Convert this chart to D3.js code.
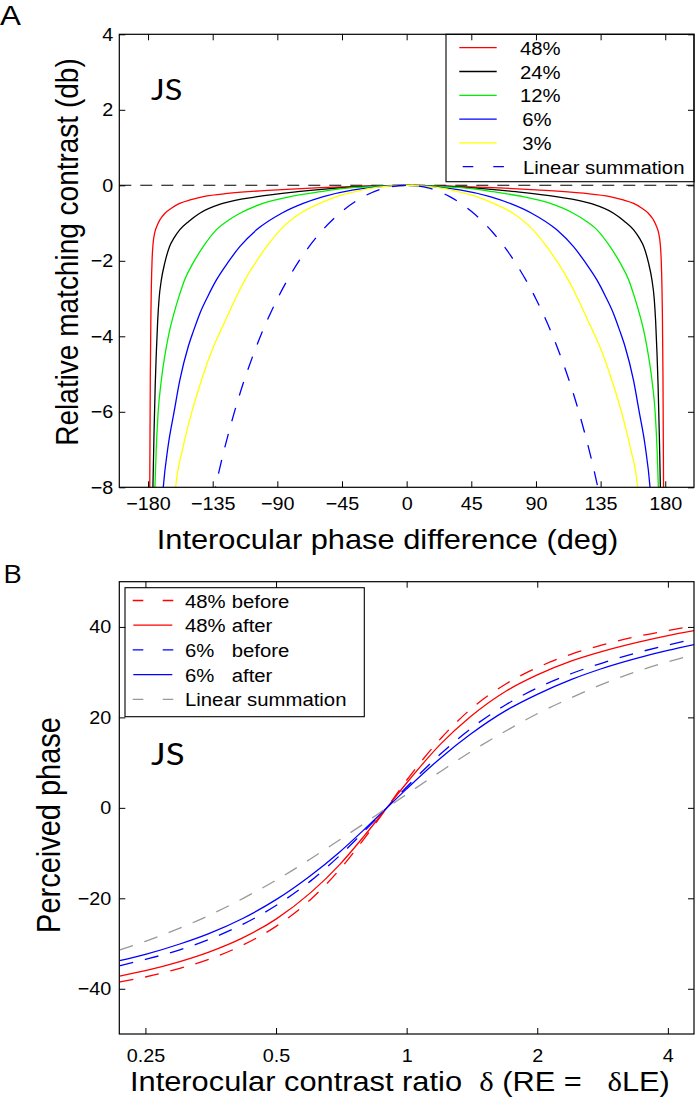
<!DOCTYPE html>
<html><head><meta charset="utf-8">
<script src="https://cdn.jsdelivr.net/npm/d3@7"></script>
<style>
body{margin:0;background:#fff;}
svg{display:block;}
text{font-family:"Liberation Sans",Arial,Helvetica,sans-serif;fill:#000;}
</style></head><body>
<svg id="chart" width="695" height="1100"></svg>
<script>
// ---------------- Panel A data ----------------
const phaseTicksA = [-180,-135,-90,-45,0,45,90,135,180];
const dbTicksA = [4,2,0,-2,-4,-6,-8];
const legendA = ["48%","24%","12%","6%","3%","Linear summation"];
const colorsA = ["#ff0000","#000000","#00ee00","#0000ff","#ffff00","#0000ff"];
const referenceDb = 0;

const phase48 = [-179,-178.8,-178.4,-178,-177.7,-177.2,-176.5,-175.4,-173.5,-171.5,-168.2,-163.5,-158,-150,-141.5,-123,-90,-60,-30,0,30,60,90,123,141.5,150,158,163.5,168.2,171.5,173.5,175.4,176.5,177.2,177.7,178,178.4,178.8,179];
const db48 = [-9.5,-8,-5,-3.4,-2.7,-2.0,-1.55,-1.27,-1.05,-0.9,-0.74,-0.6,-0.48,-0.38,-0.3,-0.21,-0.12,-0.06,-0.02,0,-0.02,-0.06,-0.12,-0.21,-0.3,-0.38,-0.48,-0.6,-0.74,-0.9,-1.05,-1.27,-1.55,-2.0,-2.7,-3.4,-5,-8,-9.5];

const phase24 = [-177,-176.6,-175.8,-175,-174.3,-173.3,-172.3,-170.7,-168.3,-165,-162,-158,-151.5,-144,-128,-104,-76,-53,-30,0,30,53,76,104,128,144,151.5,158,162,165,168.3,170.7,172.3,173.3,174.3,175,175.8,176.6,177];
const db24 = [-9,-8,-6.5,-5.3,-4.5,-3.6,-3.0,-2.5,-2.05,-1.62,-1.4,-1.18,-0.95,-0.74,-0.48,-0.3,-0.17,-0.09,-0.03,0,-0.03,-0.09,-0.17,-0.3,-0.48,-0.74,-0.95,-1.18,-1.4,-1.62,-2.05,-2.5,-3.0,-3.6,-4.5,-5.3,-6.5,-8,-9];

const phase12 = [-175.6,-175.2,-174.3,-173,-170.7,-167.2,-165,-162,-158.5,-154.5,-148.5,-141.5,-132.5,-125,-116,-100,-81,-60,-40,-20,0,20,40,60,81,100,116,125,132.5,141.5,148.5,154.5,158.5,162,165,167.2,170.7,173,174.3,175.2,175.6];
const db12 = [-8.6,-8,-7,-6.03,-5.15,-4.27,-3.85,-3.4,-2.95,-2.5,-2.05,-1.62,-1.18,-0.95,-0.74,-0.48,-0.3,-0.17,-0.07,-0.02,0,-0.02,-0.07,-0.17,-0.3,-0.48,-0.74,-0.95,-1.18,-1.62,-2.05,-2.5,-2.95,-3.4,-3.85,-4.27,-5.15,-6.03,-7,-8,-8.6];

const phase6 = [-170,-169.4,-166,-162,-157.8,-152,-148.3,-144,-138.5,-132.3,-124.5,-116,-104.5,-87,-72,-58,-37,-20,0,20,37,58,72,87,104.5,116,124.5,132.3,138.5,144,148.3,152,157.8,162,166,169.4,170];
const db6 = [-8.3,-8,-6.9,-6.03,-5.15,-4.27,-3.85,-3.4,-2.95,-2.5,-2.05,-1.62,-1.18,-0.74,-0.48,-0.3,-0.12,-0.04,0,-0.04,-0.12,-0.3,-0.48,-0.74,-1.18,-1.62,-2.05,-2.5,-2.95,-3.4,-3.85,-4.27,-5.15,-6.03,-6.9,-8,-8.3];

const phase3 = [-161.8,-160.8,-155.4,-149.7,-142.7,-134.4,-129.4,-124,-118.5,-112.4,-105.2,-97.4,-88,-74,-60.4,-48.7,-35,-20,0,20,35,48.7,60.4,74,88,97.4,105.2,112.4,118.5,124,129.4,134.4,142.7,149.7,155.4,160.8,161.8];
const db3 = [-8.4,-8,-6.9,-6.03,-5.15,-4.27,-3.85,-3.4,-2.95,-2.5,-2.05,-1.62,-1.18,-0.74,-0.48,-0.3,-0.16,-0.05,0,-0.05,-0.16,-0.3,-0.48,-0.74,-1.18,-1.62,-2.05,-2.5,-2.95,-3.4,-3.85,-4.27,-5.15,-6.03,-6.9,-8,-8.4];

const phaseLin = [-135,-130,-120,-105,-90,-75,-60,-45,-30,-15,0,15,30,45,60,75,90,105,120,130,135];
const dbLin = [-8.34,-7.48,-6.02,-4.31,-3.01,-2.01,-1.25,-0.69,-0.3,-0.07,0,-0.07,-0.3,-0.69,-1.25,-2.01,-3.01,-4.31,-6.02,-7.48,-8.34];

// ---------------- Panel B data ----------------
const ratioTicksB = [0.25,0.5,1,2,4];
const phaseTicksB = [-40,-20,0,20,40];
const ratioB = [0.218,0.25,0.3,0.35,0.42,0.5,0.6,0.7,0.8,0.9,1,1.2,1.4,1.7,2,2.4,2.8,3.4,4,4.6];
const before48 = [-38.5,-37.4,-35.5,-33.5,-30.3,-26.2,-20.3,-13.7,-6.7,0,6.1,15.4,21.7,27.5,31.0,34.0,35.9,37.9,39.2,40.2];
const after48  = [-37.2,-36.0,-34.0,-31.9,-28.7,-24.6,-18.8,-12.6,-6.1,0,5.5,14.2,20.1,25.9,29.4,32.5,34.5,36.6,38.1,39.2];
const before6  = [-34.9,-33.5,-31.4,-29.1,-25.7,-21.6,-16.2,-10.6,-5.1,0,4.6,12.0,17.4,22.9,26.5,29.7,31.9,34.3,36.0,37.3];
const after6   = [-33.8,-32.4,-30.1,-27.8,-24.4,-20.3,-15.0,-9.8,-4.7,0,4.2,11.1,16.2,21.6,25.1,28.4,30.7,33.1,34.8,36.1];
const linearB  = [-31.4,-29.5,-26.6,-23.8,-20.0,-16.0,-11.3,-7.1,-3.4,0,3.0,8.1,12.3,17.1,20.8,24.4,27.2,30.2,32.3,33.9];
const legendB = [["48%","before"],["48%","after"],["6%","before"],["6%","after"],["Linear summation",""]];
const colorsB = ["#ff0000","#ff0000","#0000ff","#0000ff","#999999"];
const dashedB = [true,false,true,false,true];

// ---------------- drawing ----------------
const S = 1.12;   // horizontal glyph stretch for labels
const ST = 1.07;  // stretch for tick and legend text
const svg = d3.select("#chart");

function htext(g, x, y, str, size, anchor, family, s){
  const t = g.append("text")
    .attr("transform", `translate(${x},${y}) scale(${s||S},1)`)
    .attr("font-size", size).text(str);
  if (anchor) t.attr("text-anchor", anchor);
  if (family) t.style("font-family", family);
  return t;
}
function vtext(g, x, y, str, size){
  return g.append("text")
    .attr("transform", `translate(${x},${y}) rotate(-90) scale(1,${S})`)
    .attr("text-anchor","middle").attr("font-size", size).text(str);
}
function styleAxis(g, size, padX){
  g.select(".domain").remove();
  g.attr("font-size", size);
  g.selectAll(".tick line").attr("stroke","#000").attr("stroke-width",1);
  g.selectAll(".tick text").attr("transform", `scale(${ST},1)`).style("font-size", size+"px");
  if (padX !== undefined) g.selectAll(".tick text").attr("x", padX / ST);
}

// ===== Panel A =====
const A = {l:119.3, r:694, t:34.3, b:487.3};
const xA = d3.scaleLinear().domain([-200,200]).range([A.l, A.r]);
const yA = d3.scaleLinear().domain([-8,4]).range([A.b, A.t]);

const defs = svg.append("defs");
defs.append("clipPath").attr("id","clipA")
  .append("rect").attr("x",A.l).attr("y",A.t).attr("width",A.r-A.l).attr("height",A.b-A.t);
defs.append("clipPath").attr("id","clipB")
  .append("rect").attr("x",119.3).attr("y",581.7).attr("width",694-119.3).attr("height",1034-581.7);

const gA = svg.append("g");
const plotA = gA.append("g").attr("clip-path","url(#clipA)");

plotA.append("line")
  .attr("x1", xA.range()[0]).attr("x2", xA.range()[1])
  .attr("y1", yA(referenceDb)).attr("y2", yA(referenceDb))
  .attr("stroke","#000").attr("stroke-width",1.1).attr("stroke-dasharray","12,9");

const seriesA = [
  {p:phase48, v:db48, c:colorsA[0], dash:null},
  {p:phase24, v:db24, c:colorsA[1], dash:null},
  {p:phase12, v:db12, c:colorsA[2], dash:null},
  {p:phase6,  v:db6,  c:colorsA[3], dash:null},
  {p:phase3,  v:db3,  c:colorsA[4], dash:null},
  {p:phaseLin,v:dbLin,c:colorsA[5], dash:"14,13"}
];
const lineA = d3.line().x(d=>xA(d[0])).y(d=>yA(d[1])).curve(d3.curveMonotoneX);
seriesA.forEach(s=>{
  plotA.append("path").datum(s.p.map((p,i)=>[p, s.v[i]]))
    .attr("d", lineA).attr("fill","none").attr("stroke", s.c)
    .attr("stroke-width",1.3).attr("stroke-dasharray", s.dash);
});

// legend A
const legA = gA.append("g");
legA.append("rect").attr("x",446).attr("y",A.t).attr("width",A.r-446).attr("height",181.7-A.t)
  .attr("fill","#fff").attr("stroke","#000").attr("stroke-width",1.1);
legendA.forEach((lab,i)=>{
  const yy = 47.7 + i*23.8;
  const dashed = i === 5;
  legA.append("line").attr("x1", dashed?462.7:459.3).attr("x2", dashed?504:496.7)
    .attr("y1",yy).attr("y2",yy).attr("stroke",colorsA[i]).attr("stroke-width",1.3)
    .attr("stroke-dasharray", dashed ? "10.6,20" : null);
  htext(legA, dashed?523:(lab.length===2?522.3:520), yy+7, lab, 19, null, null, ST);
});

// axes A
gA.append("g").attr("transform",`translate(0,${A.b})`)
  .call(d3.axisBottom(xA).tickValues(phaseTicksA).tickSizeInner(-6).tickSizeOuter(0).tickPadding(9.5))
  .call(g=>styleAxis(g,18.5));
gA.append("g").attr("transform",`translate(0,${A.t})`)
  .call(d3.axisTop(xA).tickValues(phaseTicksA).tickSizeInner(-6).tickSizeOuter(0).tickFormat(""))
  .call(g=>styleAxis(g,18.5));
gA.append("g").attr("transform",`translate(${A.l},0)`)
  .call(d3.axisLeft(yA).tickValues(dbTicksA).tickSizeInner(-6).tickSizeOuter(0).tickPadding(6))
  .call(g=>styleAxis(g,18.5,-6));
gA.append("g").attr("transform",`translate(${A.r},0)`)
  .call(d3.axisRight(yA).tickValues(dbTicksA).tickSizeInner(-6).tickSizeOuter(0).tickFormat(""))
  .call(g=>styleAxis(g,18.5));
gA.append("rect").attr("x",A.l).attr("y",A.t).attr("width",A.r-A.l).attr("height",A.b-A.t)
  .attr("fill","none").attr("stroke","#000").attr("stroke-width",1.2);

htext(gA, 0, 25, "A", 28);
htext(gA, 151, 100, "JS", 29, null, "Lato, 'Open Sans', sans-serif");
vtext(gA, 78, 252, "Relative matching contrast (db)", 28);
htext(gA, 387.5, 548.5, "Interocular phase difference (deg)", 27.5, "middle");

// ===== Panel B =====
const B = {l:119.3, r:694, t:581.7, b:1034};
const xB = d3.scaleLog().base(2).domain([Math.pow(2,-2.2), Math.pow(2,2.2)]).range([B.l, B.r]);
const yB = d3.scaleLinear().domain([-50,50]).range([B.b, B.t]);
const gB = svg.append("g");
const plotB = gB.append("g").attr("clip-path","url(#clipB)");

const seriesB = [before48, after48, before6, after6, linearB];
const lineB = d3.line().x(d=>xB(d[0])).y(d=>yB(d[1])).curve(d3.curveMonotoneX);
seriesB.forEach((vals,k)=>{
  plotB.append("path").datum(ratioB.map((r,i)=>[r, vals[i]]))
    .attr("d", lineB).attr("fill","none").attr("stroke", colorsB[k])
    .attr("stroke-width",1.3).attr("stroke-dasharray", dashedB[k] ? "14,12" : null);
});

// legend B
const legB = gB.append("g");
legB.append("rect").attr("x",125).attr("y",587.7).attr("width",364.3-125).attr("height",716.7-587.7)
  .attr("fill","#fff").attr("stroke","#000").attr("stroke-width",1.1);
legendB.forEach((lab,i)=>{
  const yy = 600.5 + i*24.7;
  legB.append("line").attr("x1", dashedB[i]?132.7:133.3).attr("x2", dashedB[i]?173.3:172.3)
    .attr("y1",yy).attr("y2",yy).attr("stroke",colorsB[i]).attr("stroke-width",1.3)
    .attr("stroke-dasharray", dashedB[i] ? "10.6,19.4" : null);
  htext(legB, 185, yy+7, lab[0], 19, null, null, ST);
  if (lab[1]) htext(legB, 231.7, yy+7, lab[1], 19, null, null, ST);
});

// axes B
const fmtB = d => String(d);
gB.append("g").attr("transform",`translate(0,${B.b})`)
  .call(d3.axisBottom(xB).tickValues(ratioTicksB).tickFormat(fmtB).tickSizeInner(-6).tickSizeOuter(0).tickPadding(14.5))
  .call(g=>styleAxis(g,18.5));
gB.append("g").attr("transform",`translate(0,${B.t})`)
  .call(d3.axisTop(xB).tickValues(ratioTicksB).tickSizeInner(-6).tickSizeOuter(0).tickFormat(""))
  .call(g=>styleAxis(g,18.5));
gB.append("g").attr("transform",`translate(${B.l},0)`)
  .call(d3.axisLeft(yB).tickValues(phaseTicksB).tickSizeInner(-6).tickSizeOuter(0).tickPadding(8))
  .call(g=>styleAxis(g,18.5,-8));
gB.append("g").attr("transform",`translate(${B.r},0)`)
  .call(d3.axisRight(yB).tickValues(phaseTicksB).tickSizeInner(-6).tickSizeOuter(0).tickFormat(""))
  .call(g=>styleAxis(g,18.5));
gB.append("rect").attr("x",B.l).attr("y",B.t).attr("width",B.r-B.l).attr("height",B.b-B.t)
  .attr("fill","none").attr("stroke","#000").attr("stroke-width",1.2);

htext(gB, 3, 583, "B", 26, null, "'Open Sans', Lato, sans-serif");
htext(gB, 151, 765, "JS", 31, null, "Lato, 'Open Sans', sans-serif");
vtext(gB, 60, 825, "Perceived phase", 29);
const xl = gB.append("text")
  .attr("transform", `translate(130,1091) scale(${S},1)`)
  .attr("font-size", 27.5).style("white-space","pre");
xl.append("tspan").text("Interocular contrast ratio  ");
xl.append("tspan").style("font-family","'Liberation Serif','DejaVu Serif',serif").text("δ");
xl.append("tspan").text(" (RE =   ");
xl.append("tspan").style("font-family","'Liberation Serif','DejaVu Serif',serif").text("δ");
xl.append("tspan").text("LE)");
</script>
</body></html>
